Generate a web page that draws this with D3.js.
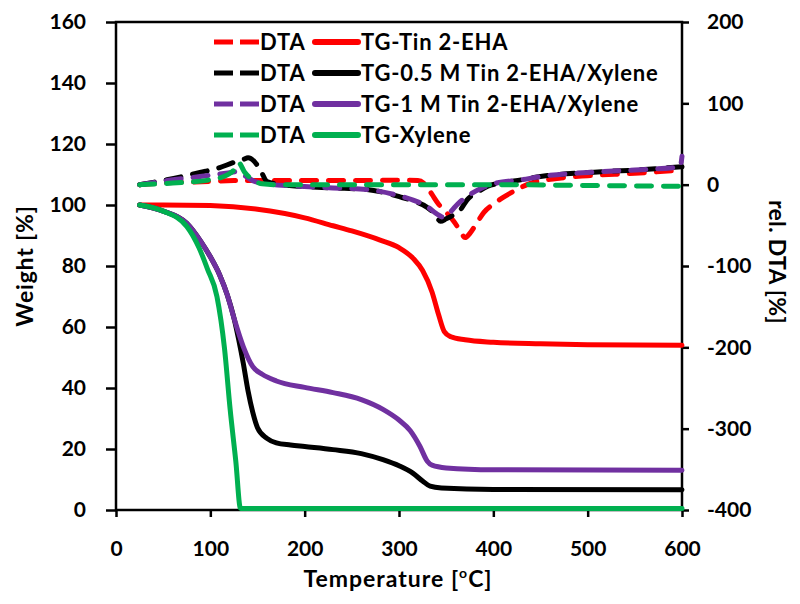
<!DOCTYPE html>
<html>
<head>
<meta charset="utf-8">
<script src="https://cdn.jsdelivr.net/npm/d3@7"></script>
<style>
  html, body { margin: 0; padding: 0; background: #fff; }
  text { font-family: Lato, "Open Sans", sans-serif; font-weight: bold; fill: #000; }
</style>
</head>
<body>
<svg id="chart" width="800" height="604"></svg>
<script>
// ---- Data ----
const xTicks = [0, 100, 200, 300, 400, 500, 600];
const yLeftTicks = [0, 20, 40, 60, 80, 100, 120, 140, 160];
const yRightTicks = [-400, -300, -200, -100, 0, 100, 200];

// TG curves (weight %)
const tgTinT = [25, 50, 100, 150, 200, 230, 250, 280, 300, 315, 325, 335, 342, 348, 355, 370, 400, 450, 500, 600];
const tgTinW = [100, 100, 99.8, 98.6, 95.8, 93.2, 91.5, 88.5, 86, 82.5, 78.5, 71.5, 64, 58.5, 56.8, 55.8, 55, 54.5, 54.2, 54];

const tg05T = [25, 50, 75, 90, 100, 110, 118, 125, 130, 135, 140, 145, 150, 160, 170, 185, 200, 230, 260, 283, 300, 315, 325, 333, 345, 400, 600];
const tg05W = [100, 98, 94, 88, 83, 77, 70.5, 63, 56, 48, 39, 32, 27, 23.5, 22, 21.3, 20.8, 19.8, 18.5, 16.5, 14.5, 12, 9.5, 7.8, 7.2, 6.7, 6.6];

const tg1T = [25, 50, 75, 90, 100, 110, 118, 125, 135, 145, 155, 170, 200, 230, 260, 283, 300, 312, 322, 330, 335, 350, 400, 600];
const tg1W = [100, 98, 94, 88, 83, 77, 70.5, 63, 53.5, 47, 44.5, 42.3, 40.2, 38.5, 36.2, 33, 29.5, 26, 21, 16, 14.7, 13.8, 13.2, 13];

const tgXylT = [25, 50, 75, 88, 97, 107, 115, 121, 127, 132, 600];
const tgXylW = [100, 98, 93, 86, 79, 70, 53, 33, 16, 0.5, 0.5];

// DTA curves (rel. DTA %)
const dtaTinT = [25, 50, 100, 125, 150, 200, 250, 300, 320, 328, 335, 342, 350, 358, 365, 370, 375, 382, 390, 400, 410, 425, 440, 470, 500, 550, 600];
const dtaTinV = [0, 2, 4, 5, 5, 5, 5, 5.5, 5, 0, -12, -24, -34, -45, -57, -65, -60, -48, -34, -24, -16, -6, 2, 8, 11, 14, 18];

const dta05T = [25, 54, 89, 110, 124, 135, 140, 147, 153, 160, 175, 195, 230, 266, 301, 315, 330, 338, 344, 350, 358, 365, 372, 385, 394, 408, 430, 450, 500, 550, 600];
const dta05V = [0, 6, 15, 21, 27, 31, 33, 28, 18, 4, 0, -2, -4, -6, -15, -20, -28, -36, -45, -42, -37, -31, -19, -8, -2, 2, 6, 10, 15, 18, 22];

const dta1T = [25, 54, 89, 110, 122, 128, 135, 145, 160, 195, 230, 266, 301, 315, 330, 340, 347, 355, 362, 368, 378, 388, 400, 430, 450, 500, 550, 598, 600];
const dta1V = [0, 5, 10, 13, 15, 16, 12, 5, 1, -2, -4, -6, -14, -19, -27, -36, -40, -33, -24, -18, -10, -4, 1, 6, 10, 15, 18, 22, 35];

const dtaXylT = [25, 60, 100, 118, 125, 130, 136, 145, 155, 170, 300, 400, 500, 600];
const dtaXylV = [0, 2, 6, 12, 18, 27, 16, 6, 1, 0, 0, 0, -1, -2];

const colors = { tin: "#ff0000", m05: "#000000", m1: "#7030a0", xyl: "#00b050" };
const legendLabels = ["TG-Tin 2-EHA", "TG-0.5 M Tin 2-EHA/Xylene", "TG-1 M Tin 2-EHA/Xylene", "TG-Xylene"];

// ---- Chart ----
const svg = d3.select("#chart");
const L = 116, R = 682, T = 22, B = 510;
const x = d3.scaleLinear().domain([0, 600]).range([L, R]);
const yL = d3.scaleLinear().domain([0, 160]).range([B, T]);
const yR = d3.scaleLinear().domain([-400, 200]).range([B, T]);

const zip = (a, b) => a.map((t, i) => [t, b[i]]);

const tgLine = d3.line().x(d => x(d[0])).y(d => yL(d[1])).curve(d3.curveMonotoneX);
const dtaLine = d3.line().x(d => x(d[0])).y(d => yR(d[1])).curve(d3.curveMonotoneX);

const tgSeries = [
  { data: zip(tgTinT, tgTinW), c: colors.tin },
  { data: zip(tg05T, tg05W), c: colors.m05 },
  { data: zip(tg1T, tg1W), c: colors.m1 },
  { data: zip(tgXylT, tgXylW), c: colors.xyl }
];
const dtaSeries = [
  { data: zip(dtaTinT, dtaTinV), c: colors.tin },
  { data: zip(dta05T, dta05V), c: colors.m05 },
  { data: zip(dta1T, dta1V), c: colors.m1 },
  { data: zip(dtaXylT, dtaXylV), c: colors.xyl }
];

// Axes
const fmt = v => String(v); // plain hyphen minus as in the reference
const axL = d3.axisLeft(yL).tickValues(yLeftTicks).tickFormat(fmt).tickSize(10).tickPadding(20);
const axR = d3.axisRight(yR).tickValues(yRightTicks).tickFormat(fmt).tickSize(7).tickPadding(18);
const axB = d3.axisBottom(x).tickValues(xTicks).tickFormat(fmt).tickSize(7).tickPadding(24);

function styleAxis(g) {
  g.select(".domain").remove();
  g.selectAll(".tick line").attr("stroke", "#000").attr("stroke-width", 2.5);
  g.selectAll(".tick text").style("font-family", "Lato, sans-serif").style("font-weight", "bold").style("font-size", "21px").attr("fill", "#000");
}
svg.append("g").attr("transform", `translate(${L},0)`).call(axL).call(styleAxis);
svg.append("g").attr("transform", `translate(${R},0)`).call(axR).call(styleAxis);
svg.append("g").attr("transform", `translate(0,${B})`).call(axB).call(styleAxis);

// Frame
svg.append("rect").attr("x", L).attr("y", T).attr("width", R - L).attr("height", B - T)
  .attr("fill", "none").attr("stroke", "#000").attr("stroke-width", 2.5);

// TG lines
tgSeries.forEach(s => {
  svg.append("path").datum(s.data).attr("d", tgLine)
    .attr("fill", "none").attr("stroke", s.c).attr("stroke-width", 5)
    .attr("stroke-linejoin", "round").attr("stroke-linecap", "round");
});
// DTA lines
dtaSeries.forEach(s => {
  svg.append("path").datum(s.data).attr("d", dtaLine)
    .attr("fill", "none").attr("stroke", s.c).attr("stroke-width", 5)
    .attr("stroke-dasharray", "15,12").attr("stroke-linecap", "round").attr("stroke-linejoin", "round");
});

// Legend
const legColors = [colors.tin, colors.m05, colors.m1, colors.xyl];
const leg = svg.append("g");
legColors.forEach((c, i) => {
  const cy = 42 + i * 31;
  leg.append("line").attr("x1", 214).attr("x2", 259).attr("y1", cy).attr("y2", cy)
    .attr("stroke", c).attr("stroke-width", 5).attr("stroke-dasharray", "19,7");
  leg.append("text").attr("x", 260).attr("y", cy).attr("dy", "0.36em")
    .style("font-size", "22px").style("letter-spacing", "0.8px").text("DTA");
  leg.append("line").attr("x1", 315).attr("x2", 358).attr("y1", cy).attr("y2", cy)
    .attr("stroke", c).attr("stroke-width", 6).attr("stroke-linecap", "round");
  leg.append("text").attr("x", 361).attr("y", cy).attr("dy", "0.36em")
    .style("font-size", "22px").style("letter-spacing", "0.8px").text(legendLabels[i]);
});

// Axis titles
svg.append("text").attr("transform", "translate(33,266) rotate(-90)")
  .attr("text-anchor", "middle").style("font-size", "23px").style("letter-spacing", "0.8px").text("Weight [%]");
svg.append("text").attr("transform", "translate(769,262) rotate(90)")
  .attr("text-anchor", "middle").style("font-size", "23px").style("letter-spacing", "0.3px").text("rel. DTA [%]");
const xt = svg.append("text").attr("x", 398).attr("y", 587).attr("text-anchor", "middle")
  .style("font-size", "23px").style("letter-spacing", "1px");
xt.append("tspan").text("Temperature [");
xt.append("tspan").attr("dy", -9).style("font-size", "14px").text("o");
xt.append("tspan").attr("dy", 9).text("C]");
</script>
</body>
</html>
